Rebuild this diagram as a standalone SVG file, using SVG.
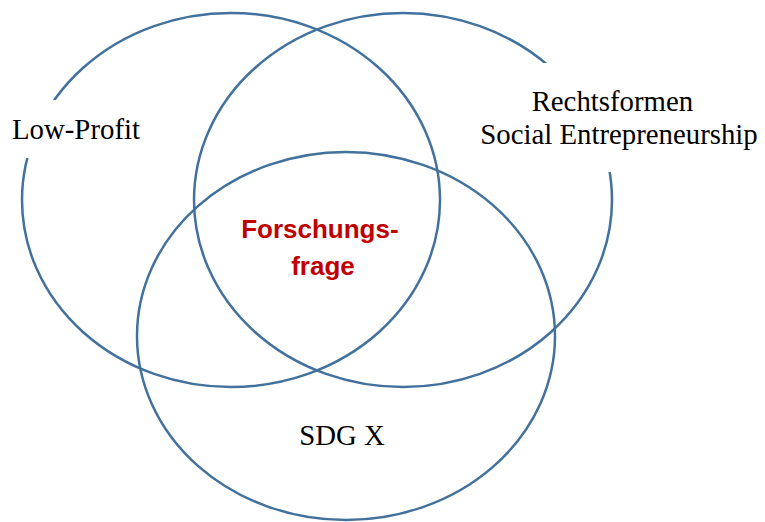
<svg xmlns="http://www.w3.org/2000/svg" width="765" height="522" viewBox="0 0 765 522">
  <style>
    .set { fill: none; stroke: #41719C; stroke-width: 2.5; }
    .mask { fill: #FFFFFF; stroke: none; }
    .lbl { font-family: "Liberation Serif", "Times New Roman", serif; font-size: 28.8px; fill: #000000; }
    .focus { font-family: "Liberation Sans", Arial, sans-serif; font-size: 26px; font-weight: bold; fill: #C00000; text-anchor: middle; }
  </style>
  <rect x="0" y="0" width="765" height="522" fill="#FFFFFF"/>
  <g id="node-low-profit">
    <ellipse class="set" cx="231" cy="200" rx="209" ry="187"/>
    <rect class="mask" x="2" y="100" width="180" height="58"/>
    <text class="lbl" x="12" y="139">Low-Profit</text>
  </g>
  <g id="node-rechtsformen">
    <ellipse class="set" cx="403" cy="200" rx="209" ry="187"/>
    <rect class="mask" x="470" y="63" width="295" height="109"/>
    <text class="lbl" text-anchor="middle">
      <tspan x="616" y="111">Rechtsformen</tspan>
      <tspan x="619" y="144">Social Entrepreneurship</tspan>
    </text>
  </g>
  <g id="node-sdg">
    <ellipse class="set" cx="346" cy="336" rx="209" ry="184"/>
    <text class="lbl" x="342" y="445" text-anchor="middle">SDG X</text>
  </g>
  <g id="node-forschungsfrage">
    <text class="focus">
      <tspan x="323.5" y="238">Forschungs-</tspan>
      <tspan x="323" y="275">frage</tspan>
    </text>
  </g>
  <g id="connectors"/>
</svg>
